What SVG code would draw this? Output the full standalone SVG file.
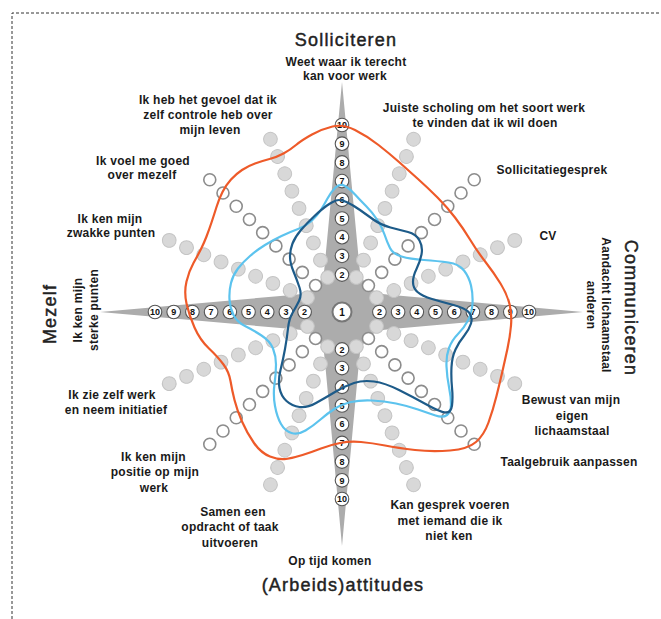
<svg xmlns="http://www.w3.org/2000/svg" width="661" height="619" viewBox="0 0 661 619">
<defs>
<style>
.t{font-family:"Liberation Sans",Arial,sans-serif;font-size:18px;letter-spacing:1.2px;fill:#222;stroke:#222;stroke-width:0.45px;text-anchor:middle}
.l{font-family:"Liberation Sans",Arial,sans-serif;font-size:12px;font-weight:bold;letter-spacing:0.25px;fill:#1a1a1a;text-anchor:middle}
.an{font-family:"Liberation Sans",Arial,sans-serif;font-size:9px;font-weight:bold;fill:#111;text-anchor:middle}
.ac{fill:#fff;stroke:#555;stroke-width:1.1}
.df{fill:#d8d8d8;stroke:#c4c4c4;stroke-width:1}
.do{fill:#fff;stroke:#8c8c8c;stroke-width:1.6}
.curve{fill:none;stroke-width:2.2;stroke-linejoin:round}
</style>
<g id="rowF">
<circle class="df" cx="379.4" cy="312" r="6.9"/><circle class="df" cx="398.1" cy="312" r="6.9"/><circle class="df" cx="416.8" cy="312" r="6.9"/><circle class="df" cx="435.5" cy="312" r="6.9"/><circle class="df" cx="454.2" cy="312" r="6.9"/><circle class="df" cx="472.9" cy="312" r="6.9"/><circle class="df" cx="491.6" cy="312" r="6.9"/><circle class="df" cx="510.3" cy="312" r="6.9"/><circle class="df" cx="529" cy="312" r="6.9"/>
</g>
<g id="rowO">
<circle class="do" cx="379.4" cy="312" r="6"/><circle class="do" cx="398.1" cy="312" r="6"/><circle class="do" cx="416.8" cy="312" r="6"/><circle class="do" cx="435.5" cy="312" r="6"/><circle class="do" cx="454.2" cy="312" r="6"/><circle class="do" cx="472.9" cy="312" r="6"/><circle class="do" cx="491.6" cy="312" r="6"/><circle class="do" cx="510.3" cy="312" r="6"/><circle class="do" cx="529" cy="312" r="6"/>
</g>
</defs>
<rect width="661" height="619" fill="#fff"/>
<path id="frame" d="M12,619 V13 H661" fill="none" stroke="#333" stroke-width="1" stroke-dasharray="3 2"/>

<g id="star">
<path d="M342,82 L359,262 Q360,294 392,295 L583,312 L392,329 Q360,330 359,362 L342,546 L325,362 Q324,330 292,329 L100,312 L292,295 Q324,294 325,262 Z" fill="#acacac"/>
</g>

<g id="spokes">
<use href="#rowF" transform="rotate(-22.5 342 312)"/>
<use href="#rowF" transform="rotate(-67.5 342 312)"/>
<use href="#rowF" transform="rotate(-112.5 342 312)"/>
<use href="#rowF" transform="rotate(-157.5 342 312)"/>
<use href="#rowF" transform="rotate(-202.5 342 312)"/>
<use href="#rowF" transform="rotate(-247.5 342 312)"/>
<use href="#rowF" transform="rotate(-292.5 342 312)"/>
<use href="#rowF" transform="rotate(-337.5 342 312)"/>
<use href="#rowO" transform="rotate(-45 342 312)"/>
<use href="#rowO" transform="rotate(-135 342 312)"/>
<use href="#rowO" transform="rotate(-225 342 312)"/>
<use href="#rowO" transform="rotate(-315 342 312)"/>
</g>

<g id="axis-numbers">
<circle cx="342" cy="312" r="9.5" fill="#fff" stroke="#777" stroke-width="2"/>
<text class="an" x="342" y="315.6" style="font-size:10px">1</text>
<g id="axis-top">
<circle class="ac" cx="342" cy="274.6" r="6.8"/><text class="an" x="342" y="277.8">2</text>
<circle class="ac" cx="342" cy="255.9" r="6.8"/><text class="an" x="342" y="259.1">3</text>
<circle class="ac" cx="342" cy="237.2" r="6.8"/><text class="an" x="342" y="240.4">4</text>
<circle class="ac" cx="342" cy="218.5" r="6.8"/><text class="an" x="342" y="221.7">5</text>
<circle class="ac" cx="342" cy="199.8" r="6.8"/><text class="an" x="342" y="203">6</text>
<circle class="ac" cx="342" cy="181.1" r="6.8"/><text class="an" x="342" y="184.3">7</text>
<circle class="ac" cx="342" cy="162.4" r="6.8"/><text class="an" x="342" y="165.6">8</text>
<circle class="ac" cx="342" cy="143.7" r="6.8"/><text class="an" x="342" y="146.9">9</text>
<circle class="ac" cx="342" cy="125" r="6.8"/><text class="an" x="342" y="128.2">10</text>
</g>
<g id="axis-bottom">
<circle class="ac" cx="342" cy="349.4" r="6.8"/><text class="an" x="342" y="352.6">2</text>
<circle class="ac" cx="342" cy="368.1" r="6.8"/><text class="an" x="342" y="371.3">3</text>
<circle class="ac" cx="342" cy="386.8" r="6.8"/><text class="an" x="342" y="390">4</text>
<circle class="ac" cx="342" cy="405.5" r="6.8"/><text class="an" x="342" y="408.7">5</text>
<circle class="ac" cx="342" cy="424.2" r="6.8"/><text class="an" x="342" y="427.4">6</text>
<circle class="ac" cx="342" cy="442.9" r="6.8"/><text class="an" x="342" y="446.1">7</text>
<circle class="ac" cx="342" cy="461.6" r="6.8"/><text class="an" x="342" y="464.8">8</text>
<circle class="ac" cx="342" cy="480.3" r="6.8"/><text class="an" x="342" y="483.5">9</text>
<circle class="ac" cx="342" cy="499" r="6.8"/><text class="an" x="342" y="502.2">10</text>
</g>
<g id="axis-right">
<circle class="ac" cx="379.4" cy="312" r="6.8"/><text class="an" x="379.4" y="315.2">2</text>
<circle class="ac" cx="398.1" cy="312" r="6.8"/><text class="an" x="398.1" y="315.2">3</text>
<circle class="ac" cx="416.8" cy="312" r="6.8"/><text class="an" x="416.8" y="315.2">4</text>
<circle class="ac" cx="435.5" cy="312" r="6.8"/><text class="an" x="435.5" y="315.2">5</text>
<circle class="ac" cx="454.2" cy="312" r="6.8"/><text class="an" x="454.2" y="315.2">6</text>
<circle class="ac" cx="472.9" cy="312" r="6.8"/><text class="an" x="472.9" y="315.2">7</text>
<circle class="ac" cx="491.6" cy="312" r="6.8"/><text class="an" x="491.6" y="315.2">8</text>
<circle class="ac" cx="510.3" cy="312" r="6.8"/><text class="an" x="510.3" y="315.2">9</text>
<circle class="ac" cx="529" cy="312" r="6.8"/><text class="an" x="529" y="315.2">10</text>
</g>
<g id="axis-left">
<circle class="ac" cx="304.6" cy="312" r="6.8"/><text class="an" x="304.6" y="315.2">2</text>
<circle class="ac" cx="285.9" cy="312" r="6.8"/><text class="an" x="285.9" y="315.2">3</text>
<circle class="ac" cx="267.2" cy="312" r="6.8"/><text class="an" x="267.2" y="315.2">4</text>
<circle class="ac" cx="248.5" cy="312" r="6.8"/><text class="an" x="248.5" y="315.2">5</text>
<circle class="ac" cx="229.8" cy="312" r="6.8"/><text class="an" x="229.8" y="315.2">6</text>
<circle class="ac" cx="211.1" cy="312" r="6.8"/><text class="an" x="211.1" y="315.2">7</text>
<circle class="ac" cx="192.4" cy="312" r="6.8"/><text class="an" x="192.4" y="315.2">8</text>
<circle class="ac" cx="173.7" cy="312" r="6.8"/><text class="an" x="173.7" y="315.2">9</text>
<circle class="ac" cx="155" cy="312" r="6.8"/><text class="an" x="155" y="315.2">10</text>
</g>
</g>

<g id="connectors">
<path id="curve-orange" class="curve" stroke="#ee5a29" d="M332.5,126.5 Q343,124 355,130 Q367,136 378.5,145 Q390,154 399,162 Q408,170 418,179 Q428,188 437.5,197.5 Q447,207 455,217.5 Q463,228 470,239.5 Q477,251 485.5,262 Q494,273 500.5,283.5 Q507,294 509.5,304 Q512,314 511,325.5 Q510,337 507.5,348.5 Q505,360 502.5,371 Q500,382 496.5,396 Q493,410 488.5,422.5 Q484,435 476,442 Q468,449 450,450.5 Q432,452 415,450 Q398,448 385,445.5 Q372,443 361,442 Q350,441 340,443 Q330,445 321,448.5 Q312,452 302.5,455 Q293,458 286,459 Q279,460 270,456.5 Q261,453 254,443 Q247,433 242,421.5 Q237,410 234.5,400 Q232,390 230.5,381 Q229,372 223.5,364.5 Q218,357 209,348.5 Q200,340 194.5,327.5 Q189,315 186.5,303.5 Q184,292 186.5,281.5 Q189,271 193.5,263 Q198,255 201,249 Q204,243 206.5,236.5 Q209,230 211.5,222.5 Q214,215 216.5,207 Q219,199 222.5,192 Q226,185 231,179.5 Q236,174 242,170 Q248,166 255,163.5 Q262,161 269.5,159 Q277,157 283.5,153.5 Q290,150 296,145 Q302,140 312,134.5 Q322,129 332.5,126.5 Z"/>
<path id="curve-lightblue" class="curve" stroke="#5cc3ee" d="M335.5,187.5 Q340,183 345,186 Q350,189 355,194.5 Q360,200 366,206 Q372,212 377,219.5 Q382,227 384.5,234.5 Q387,242 390,248 Q393,254 401.5,256.5 Q410,259 424,260 Q438,261 448.5,262.5 Q459,264 464,270.5 Q469,277 471,285.5 Q473,294 472.5,303.5 Q472,313 468,320.5 Q464,328 458,334 Q452,340 449,348 Q446,356 446.5,366.5 Q447,377 449,387 Q451,397 451,404.5 Q451,412 447,415 Q443,418 435.5,415.5 Q428,413 418,409.5 Q408,406 396,403.5 Q384,401 372,400.5 Q360,400 351,402 Q342,404 335,408.5 Q328,413 320.5,419.5 Q313,426 305.5,430.5 Q298,435 291.5,433 Q285,431 281,424 Q277,417 275,406 Q273,395 274.5,384 Q276,373 276,364.5 Q276,356 273,348.5 Q270,341 261.5,335.5 Q253,330 245,326 Q237,322 233.5,315 Q230,308 229.5,299.5 Q229,291 231,283 Q233,275 238,268.5 Q243,262 250,256 Q257,250 265,245 Q273,240 281.5,236 Q290,232 298,229 Q306,226 311.5,221 Q317,216 320.5,210.5 Q324,205 327.5,198.5 Q331,192 335.5,187.5 Z"/>
<path id="curve-darkblue" class="curve" stroke="#1d5b89" d="M336,200.5 Q340,199 346.5,202 Q353,205 360,210 Q367,215 374,220 Q381,225 390.5,227.5 Q400,230 408,232 Q416,234 419.5,240.5 Q423,247 421.5,254.5 Q420,262 416.5,269 Q413,276 413,282 Q413,288 417.5,292 Q422,296 432,299 Q442,302 453.5,305 Q465,308 469,312.5 Q473,317 471,323.5 Q469,330 464,336 Q459,342 455.5,349.5 Q452,357 451.5,367 Q451,377 452,387.5 Q453,398 452,405.5 Q451,413 445.5,412.5 Q440,412 426.5,404.5 Q413,397 399,390 Q385,383 374,381.5 Q363,380 354,383 Q345,386 335,392 Q325,398 316,403 Q307,408 299.5,407 Q292,406 286.5,401 Q281,396 279.5,388 Q278,380 280.5,370 Q283,360 285,349 Q287,338 288,328.5 Q289,319 292.5,313 Q296,307 299,301 Q302,295 299.5,287.5 Q297,280 293.5,271.5 Q290,263 290,256.5 Q290,250 292.5,243.5 Q295,237 301,230 Q307,223 314.5,216 Q322,209 327,205.5 Q332,202 336,200.5 Z"/>
</g>

<g id="titles">
<text id="t-solliciteren" class="t" x="346" y="46">Solliciteren</text>
<text id="t-arbeid" class="t" x="343" y="591">(Arbeids)attitudes</text>
<text id="t-mezelf" class="t" transform="translate(56,314) rotate(-90)">Mezelf</text>
<text id="t-comm" class="t" transform="translate(625,308) rotate(90)">Communiceren</text>
</g>

<g id="labels">
<g id="lab-weet"><text class="l" x="346" y="66">Weet waar ik terecht</text><text class="l" x="345" y="80">kan voor werk</text></g>
<g id="lab-controle"><text class="l" x="208" y="103.5">Ik heb het gevoel dat ik</text><text class="l" x="208" y="118.5">zelf controle heb over</text><text class="l" x="210" y="134">mijn leven</text></g>
<g id="lab-scholing"><text class="l" x="484" y="112">Juiste scholing om het soort werk</text><text class="l" x="485" y="126.5">te vinden dat ik wil doen</text></g>
<g id="lab-goed"><text class="l" x="143" y="165">Ik voel me goed</text><text class="l" x="142" y="179">over mezelf</text></g>
<g id="lab-gesprek"><text class="l" x="552" y="174">Sollicitatiegesprek</text></g>
<g id="lab-zwak"><text class="l" x="110" y="222.5">Ik ken mijn</text><text class="l" x="111" y="237">zwakke punten</text></g>
<g id="lab-cv"><text class="l" x="548" y="240">CV</text></g>
<g id="lab-sterk"><text class="l" transform="translate(82,310) rotate(-90)">Ik ken mijn</text><text class="l" transform="translate(98,310) rotate(-90)">sterke punten</text></g>
<g id="lab-aandacht"><text class="l" transform="translate(602,305) rotate(90)">Aandacht lichaamstaal</text><text class="l" transform="translate(587,305) rotate(90)">anderen</text></g>
<g id="lab-initiatief"><text class="l" x="112" y="399">Ik zie zelf werk</text><text class="l" x="116" y="413.5">en neem initiatief</text></g>
<g id="lab-bewust"><text class="l" x="571" y="404">Bewust van mijn</text><text class="l" x="572" y="419.5">eigen</text><text class="l" x="572" y="434.5">lichaamstaal</text></g>
<g id="lab-taal"><text class="l" x="569" y="466">Taalgebruik aanpassen</text></g>
<g id="lab-positie"><text class="l" x="153.5" y="461">Ik ken mijn</text><text class="l" x="155" y="476">positie op mijn</text><text class="l" x="154" y="491.5">werk</text></g>
<g id="lab-samen"><text class="l" x="233" y="516">Samen een</text><text class="l" x="230" y="530.5">opdracht of taak</text><text class="l" x="230" y="547">uitvoeren</text></g>
<g id="lab-kan"><text class="l" x="450" y="509">Kan gesprek voeren</text><text class="l" x="450" y="525">met iemand die ik</text><text class="l" x="449" y="540">niet ken</text></g>
<g id="lab-optijd"><text class="l" x="330" y="565">Op tijd komen</text></g>
</g>
</svg>
